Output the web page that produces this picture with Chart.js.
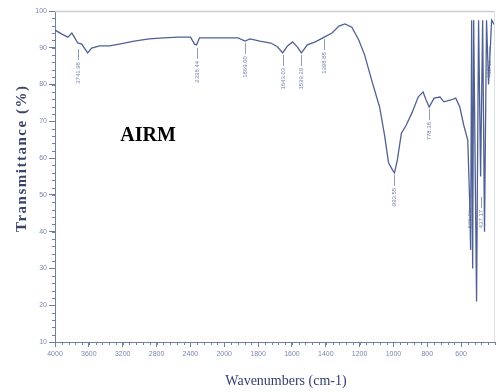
<!DOCTYPE html>
<html><head><meta charset="utf-8">
<script src="https://cdn.jsdelivr.net/npm/chart.js@4/dist/chart.umd.min.js"></script>
<style>html,body{margin:0;padding:0;background:#fff;}canvas{display:block;}</style>
</head><body>
<canvas id="c" width="496" height="392"></canvas>
<script>
// ---- data ----
const WAVENUMBERS = [4000, 3918, 3848, 3801, 3766, 3731, 3684, 3614, 3567, 3474, 3357, 3240, 3064, 2889, 2713, 2538, 2398, 2351, 2327, 2292, 2187, 2012, 1918, 1877, 1848, 1789, 1725, 1684, 1655, 1626, 1596, 1567, 1544, 1509, 1462, 1409, 1363, 1322, 1287, 1246, 1205, 1170, 1129, 1082, 1053, 1029, 1006, 994, 977, 953, 924, 889, 854, 825, 807, 789, 760, 725, 702, 661, 632, 608, 585, 561, 550, 544, 538, 532, 526, 509, 497, 485, 473, 462, 450, 438, 420, 400];
const TRANSMITTANCE = [94.8, 93.7, 92.9, 94.0, 92.7, 91.3, 91.0, 88.6, 89.9, 90.5, 90.5, 91.0, 91.8, 92.4, 92.7, 92.9, 92.9, 91.0, 90.8, 92.7, 92.7, 92.7, 92.7, 91.8, 92.4, 91.8, 91.3, 90.2, 88.6, 90.5, 91.6, 90.2, 88.6, 90.8, 91.6, 92.9, 94.0, 95.9, 96.5, 95.6, 92.1, 88.0, 81.2, 73.9, 66.3, 58.7, 56.8, 56.0, 59.5, 66.8, 69.0, 72.5, 76.6, 78.0, 75.8, 73.9, 76.3, 76.6, 75.3, 75.8, 76.3, 73.9, 69.0, 64.9, 48.6, 35.0, 97.5, 30.0, 97.5, 21.0, 97.5, 55.0, 97.5, 40.0, 97.5, 80.0, 97.5, 96.0];
const X_TICKS = [4000, 3600, 3200, 2800, 2400, 2000, 1800, 1600, 1400, 1200, 1000, 800, 600];
const Y_TICKS = [10, 20, 30, 40, 50, 60, 70, 80, 90, 100];
const X_MIN = 400, X_MAX = 4000, X_BREAK = 2000;
const Y_MIN = 10, Y_MAX = 100;
const PEAK_WN = [3731, 2327, 1877, 1655, 1544, 1409, 994, 789, 546, 485, 436];
const PEAK_T = [90.2, 90.5, 91.8, 88.6, 88.6, 92.9, 56.0, 73.9, 50.0, 50.0, 90.8];
const PEAK_LABELS = ["3741.98", "2338.44", "1869.00", "1643.03", "1539.29", "1398.88", "993.55", "778.38", "528.96", "437.17", "412.15"];
const SAMPLE_LABEL = "AIRM";
const X_TITLE = "Wavenumbers (cm-1)";
const Y_TITLE = "Transmittance (%)";

// ---- a linear scale with a change of scale at 2000 cm-1 (reversed) ----
class BrokenScale extends Chart.LinearScale {
  static id = 'broken';
  static defaults = {};
  _u(v) { return v >= X_BREAK ? (X_MAX - v) / 400 : (X_MAX - X_BREAK) / 400 + (X_BREAK - v) / 200; }
  getPixelForValue(v) { return this.left + this._u(v) / this._u(X_MIN) * this.width; }
  getValueForPixel(p) {
    const u = (p - this.left) / this.width * this._u(X_MIN);
    const ub = this._u(X_BREAK);
    return u <= ub ? X_MAX - u * 400 : X_BREAK - (u - ub) * 200;
  }
  buildTicks() { return X_TICKS.map(v => ({ value: v })); }
}
Chart.register(BrokenScale);

const AXIS = '#6f7fa6', TICKTXT = '#7a88b0', LINE = '#4f6094', ANN = '#7584ad';

const decor = {
  id: 'decor',
  afterDatasetsDraw(chart) {
    const { ctx, chartArea: a } = chart;
    const xs = chart.scales.x, ys = chart.scales.y;
    ctx.save();
    ctx.strokeStyle = '#c9ccd6'; ctx.lineWidth = 1.5;
    ctx.beginPath(); ctx.moveTo(a.left, a.top + 0.5); ctx.lineTo(a.right, a.top + 0.5); ctx.stroke();
    ctx.lineWidth = 1; ctx.strokeStyle = '#dde0e8';
    ctx.beginPath(); ctx.moveTo(a.right - 0.5, a.top); ctx.lineTo(a.right - 0.5, a.bottom); ctx.stroke();
    ctx.strokeStyle = AXIS; ctx.lineWidth = 1;
    for (let t = Y_MIN; t <= Y_MAX; t += 2) {
      const py = Math.round(ys.getPixelForValue(t)) + 0.5;
      ctx.beginPath(); ctx.moveTo(a.left - 3, py); ctx.lineTo(a.left, py); ctx.stroke();
    }
    const minor = [];
    for (let v = X_MAX; v >= X_BREAK; v -= 80) minor.push(v);
    for (let v = X_BREAK - 40; v >= X_MIN; v -= 40) minor.push(v);
    minor.forEach(v => {
      const px = Math.round(xs.getPixelForValue(v)) + 0.5;
      ctx.beginPath(); ctx.moveTo(px, a.bottom); ctx.lineTo(px, a.bottom + 3); ctx.stroke();
    });
    ctx.strokeStyle = ANN; ctx.fillStyle = ANN; ctx.lineWidth = 0.8;
    ctx.font = '6px "Liberation Sans"';
    PEAK_WN.forEach((wn, i) => {
      const px = Math.round(xs.getPixelForValue(wn)) + 0.5;
      const py = ys.getPixelForValue(PEAK_T[i]) + 2;
      ctx.beginPath(); ctx.moveTo(px, py); ctx.lineTo(px, py + 11); ctx.stroke();
      ctx.save(); ctx.translate(px, py + 13); ctx.rotate(-Math.PI / 2);
      ctx.textAlign = 'right'; ctx.textBaseline = 'middle';
      ctx.fillText(PEAK_LABELS[i], 0, 0); ctx.restore();
    });
    function fitText(text, font, target, x, y, rot, color) {
      ctx.save(); ctx.font = font; ctx.fillStyle = color;
      ctx.letterSpacing = '0px';
      const w = ctx.measureText(text).width;
      const ls = Math.max(0, (target - w) / (text.length - 1));
      ctx.letterSpacing = ls.toFixed(2) + 'px';
      ctx.translate(x, y); ctx.rotate(rot);
      ctx.textAlign = 'center'; ctx.textBaseline = 'middle';
      ctx.fillText(text, ls / 2, 0);
      ctx.restore();
    }
    fitText(Y_TITLE, 'bold 15px "Liberation Serif"', 146, 22, 159, -Math.PI / 2, '#3a4468');
    fitText(X_TITLE, '14px "Liberation Serif"', 118, 286, 381, 0, '#2f3d72');
    ctx.font = 'bold 20px "Liberation Serif"'; ctx.fillStyle = '#000';
    ctx.textAlign = 'center'; ctx.textBaseline = 'alphabetic';
    ctx.fillText(SAMPLE_LABEL, 148, 141);
    ctx.restore();
  }
};

new Chart(document.getElementById('c'), {
  type: 'line',
  data: {
    datasets: [{
      data: WAVENUMBERS.map((w, i) => ({ x: w, y: TRANSMITTANCE[i] })),
      borderColor: LINE, borderWidth: 1.3, pointRadius: 0, tension: 0, fill: false
    }]
  },
  options: {
    responsive: false, animation: false, devicePixelRatio: 1,
    layout: { padding: { top: 11, right: 1, left: 0, bottom: 0 } },
    plugins: { legend: { display: false }, tooltip: { enabled: false } },
    scales: {
      x: {
        type: 'broken', min: X_MIN, max: X_MAX,
        afterFit(s) { s.height = 50; },
        grid: { drawOnChartArea: false, drawTicks: true, tickLength: 5, color: AXIS },
        border: { display: true, color: AXIS, width: 1 },
        ticks: { autoSkip: false, maxRotation: 0, padding: 3, color: TICKTXT, font: { size: 7, family: 'Liberation Sans' }, callback: v => String(v) }
      },
      y: {
        type: 'linear', min: Y_MIN, max: Y_MAX,
        afterBuildTicks(s) { s.ticks = Y_TICKS.map(v => ({ value: v })); },
        afterFit(s) { s.width = 55; },
        grid: { drawOnChartArea: false, drawTicks: true, tickLength: 6, color: AXIS },
        border: { display: true, color: AXIS, width: 1 },
        ticks: { padding: 2, color: TICKTXT, font: { size: 7, family: 'Liberation Sans' } }
      }
    }
  },
  plugins: [decor]
});
</script>
</body></html>
